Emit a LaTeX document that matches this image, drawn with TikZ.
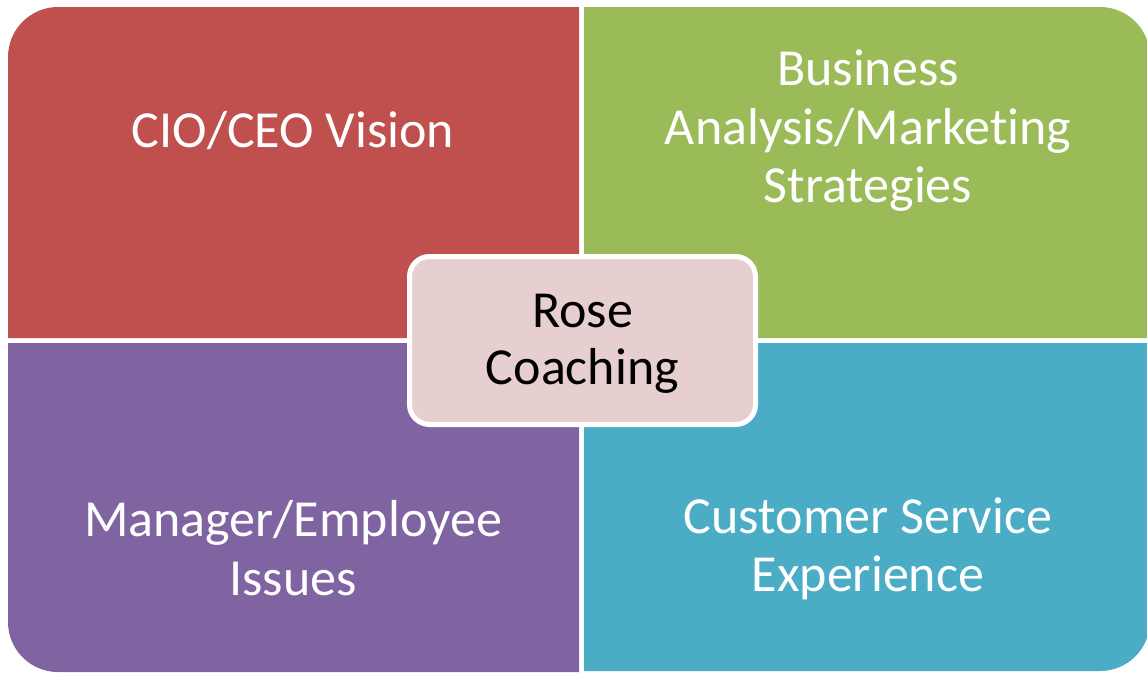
\documentclass[tikz,border=0pt]{standalone}
\usepackage{fontspec}
\setmainfont[Ligatures={NoCommon}, RawFeature={-liga;-clig;-calt;-dlig}]{Carlito}
\definecolor{visionred}{HTML}{C0504D}
\definecolor{strategygreen}{HTML}{9BBB59}
\definecolor{issuepurple}{HTML}{8064A2}
\definecolor{serviceblue}{HTML}{4BACC6}
\definecolor{hubpink}{HTML}{E7CFD0}
\begin{document}
\begin{tikzpicture}[x=1pt, y=-1pt,
			quadtext/.style={text=white, align=center, font=\fontsize{52}{58.5}\selectfont},
			hub/.style={draw=white, line width=5pt, fill=hubpink, rounded corners=20pt,
				minimum width=346pt, minimum height=168pt},
			hubtext/.style={align=center, font=\fontsize{52}{57}\selectfont},
		]
			\useasboundingbox (0,0) rectangle (1147,673);

			% four quadrants, only the outer corner rounded
			\fill[visionred] (8,338) [rounded corners=50pt] -- (8,7) [sharp corners] -- (579,7) -- (579,338) -- cycle;
			\fill[strategygreen] (584,7) [rounded corners=50pt] -- (1150,7) [sharp corners] -- (1150,338) -- (584,338) -- cycle;
			\fill[issuepurple] (579,343) -- (579,672) [rounded corners=50pt] -- (8,672) [sharp corners] -- (8,343) -- cycle;
			\fill[serviceblue] (584,343) -- (1150,343) [rounded corners=50pt] -- (1150,671) [sharp corners] -- (584,671) -- cycle;

			\node[quadtext] (vision) at (293,131) {CIO/CEO Vision};
			\node[quadtext] (strategy) at (868,131) {Business\\Analysis/Marketing\\Strategies};
			\node[quadtext] (issues) at (293,548) {Manager/Employee\\Issues};
			\node[quadtext] (service) at (868,549) {Customer Service\\Experience};

			\node[hub] (coaching) at (582.5,340.5) {};
			\node[hubtext] (coachingtext) at (coaching.center) [yshift=-3pt] {Rose\\Coaching};
		\end{tikzpicture}
\end{document}
